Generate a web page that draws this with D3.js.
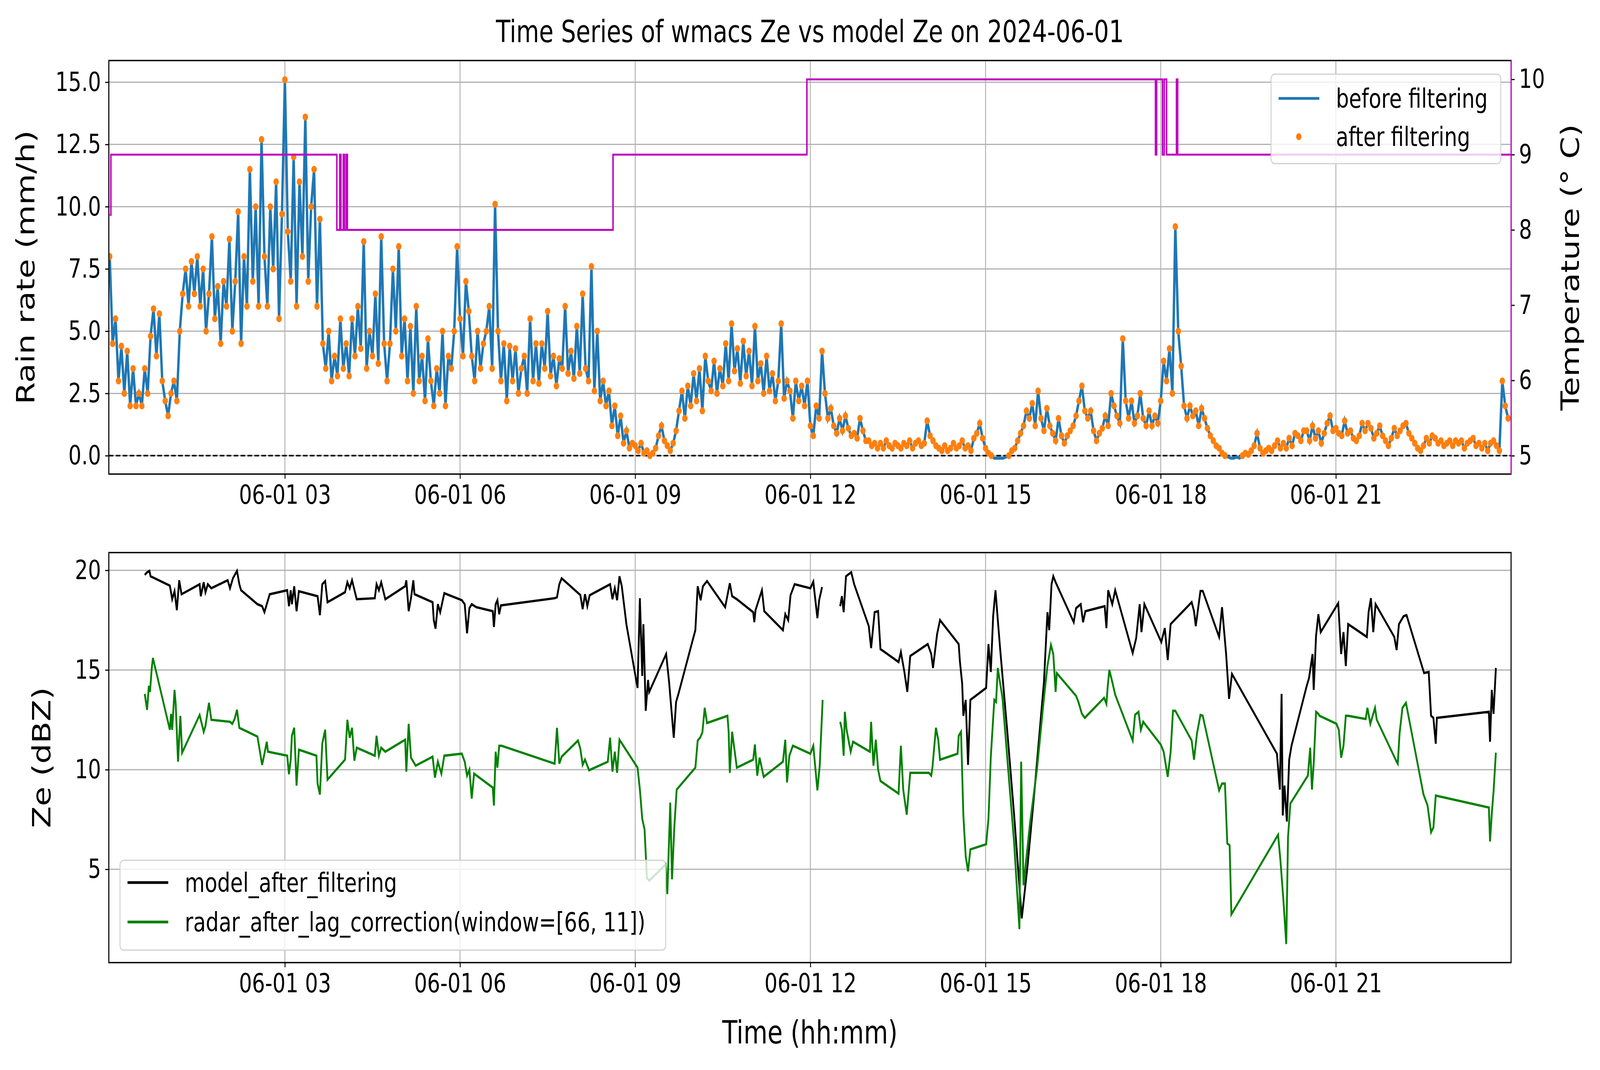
<!DOCTYPE html>
<html><head><meta charset="utf-8">
<script src="https://cdn.jsdelivr.net/npm/d3@7"></script>
<style>html,body{margin:0;padding:0;background:#fff;overflow:hidden;width:100%;height:100%}svg{display:block;width:100vw;height:100vh;font-family:"DejaVu Sans",sans-serif}</style>
</head><body><svg id="chart" viewBox="0 0 5307 2740" preserveAspectRatio="none"></svg>
<script>
// rain rate every 3 minutes from 00:00 (mm/h)
const rainStepMin = 3;
const rainRate = [
  8,4.5,5.5,3,4.4,2.5,4.2,2.0,3.5,2, 2.5,2,3.5,2.5,4.8,5.9,4,5.7,3,2.2,
  1.6,2.5,3,2.2,5,6.5,7.5,6,7.8,6.5, 8,6,7.5,5,6.5,8.8,5.5,6.8,4.5,7,
  6,8.7,5,7,9.8,4.5,8,6,11.5,7, 10,6,12.7,8,6,10,7.5,11,5.5,9.7,
  15.1,9,7,12,6,11,8,13.6,7,10, 11.5,6,9.5,4.5,3.5,5,3,4,3.2,5.5,
  3.5,4.5,3.2,5.5,4,6,4.3,8.6,3.5,5, 4,6.5,3.7,8.8,4.5,3,4.5,7.5,5,8.4,
  4,5.5,3,5.2,2.5,6,3,4,2.2,4.7, 3,2,3.5,2.5,5,2,4,3.5,5,8.4,
  5.5,4,7,5.8,4,3,5,3.5,4.5,5, 6,3.5,10.1,5,3,4.5,2.2,4.4,3,4.3,
  2.5,3.5,4,2.5,5.5,3,4.5,2.9,4.5,3.5, 5.8,3.2,4,2.8,3.9,3.5,6,3.3,4.2,3.1,
  5.2,3.3,6.5,3.5,3,7.6,2.6,5,2.2,3, 2,2.6,1.2,2,0.8,1.6,0.5,1,0.3,0.5,
  0.4,0.2,0.5,0.1,0.2,0,0.1,0.3,0.8,1.2, 0.6,0.4,0.2,0.5,1,1.8,2.6,1.5,2.8,2,
  3.3,2.2,3.5,1.8,4,3,2.6,3.8,2.5,3.5, 2.8,4.5,3,5.3,3.4,4.3,2.9,4.6,3.2,4.2,
  2.8,5.2,3,3.7,2.5,4,2.6,3.3,2.2,3, 5.3,2.3,3,2.6,1.5,3,2.2,2.8,2,3,
  1.2,0.8,2,1.5,4.2,2.5,1.5,1.9,1.2,0.9, 1.5,1,1.6,1.1,0.8,0.9,0.7,1.5,1,0.6,
  0.6,0.4,0.5,0.3,0.5,0.3,0.6,0.4,0.3,0.5, 0.4,0.3,0.5,0.4,0.6,0.3,0.5,0.6,0.4,0.5,
  1.4,0.8,0.6,0.4,0.3,0.2,0.4,0.2,0.3,0.5, 0.3,0.4,0.6,0.3,0.4,0.2,0.7,0.9,1.3,0.7,
  0.3,0.1,0,-0.1,-0.1,-0.1,-0.1,-0.05,0,0.2, 0.3,0.6,0.9,1.2,1.8,1.5,2.1,1.2,2.6,1.5,
  1,1.9,1.2,0.9,0.6,1.5,0.8,0.5,0.8,1, 1.2,1.6,2.2,2.8,1.8,1.5,1.8,1,0.6,0.9,
  1.1,1.6,1.2,2.5,2,1.6,1.3,4.7,2.2,1.5, 2.2,1.3,1.6,2.5,1.5,1.2,1.8,1.2,1.6,1.3,
  2.2,3.8,3,4.3,2.5,9.2,5,3.6,2,1.5, 2,1.6,1.8,1.2,1.9,1.5,1.1,0.8,0.6,0.4,
  0.3,0.1,0,-0.05,-0.1,-0.1,-0.05,-0.1,0,0.1, 0.05,0.2,0.4,0.9,0.3,0.1,0.2,0.3,0.2,0.4,
  0.6,0.3,0.5,0.3,0.7,0.4,0.9,0.8,0.6,1, 1,0.6,1.2,0.7,1,0.5,0.9,1.3,1.6,1,
  1.1,0.9,0.8,1.4,0.9,1,0.7,0.6,0.8,1.3, 1,1.3,1.1,0.7,0.9,1.2,0.8,0.6,0.4,0.7,
  1.1,0.8,1,1.2,1.3,0.9,0.7,0.5,0.3,0.2, 0.4,0.7,0.5,0.8,0.7,0.5,0.6,0.4,0.5,0.6,
  0.4,0.6,0.5,0.6,0.3,0.5,0.6,0.7,0.4,0.5, 0.3,0.5,0.2,0.5,0.6,0.4,0.2,3,2,1.5
];
// temperature steps (hour, °C)
const tempHours = [0,0.02,3.89,3.94,3.96,4.0,4.02,4.05,4.07,8.62,11.94,17.91,17.93,18.03,18.06,18.1,18.27,18.29,24];
const tempValues = [8.2,9,8,9,8,9,8,9,8,9,10,9,10,9,10,9,10,9,9];

// model Ze (hour, dBZ); null = gap
const modelHours = [0.6,0.64,0.68,0.7,1.03,1.07,1.11,1.15,1.19,1.23,1.54,1.56,1.61,1.64,1.68,1.74,2.02,2.06,2.11,2.18,2.22,2.25,2.53,2.61,2.65,2.71,2.74,3.04,3.07,3.1,3.12,3.16,3.2,3.24,3.56,3.6,3.64,3.69,3.73,4.03,4.07,4.11,4.15,4.23,4.54,4.57,4.61,4.65,4.72,5.06,5.08,5.12,5.16,5.2,5.22,5.53,5.55,5.58,5.62,5.66,5.73,6.03,6.08,6.12,6.16,6.2,6.28,6.56,6.58,6.61,6.64,6.67,6.7,7.62,7.66,7.7,7.74,8.06,8.1,8.14,8.18,8.22,8.57,8.61,8.65,8.69,8.73,8.77,8.85,9.04,9.08,9.12,9.14,9.18,9.22,9.24,9.53,9.58,9.66,9.7,9.74,10.03,10.07,10.12,10.16,10.23,10.54,10.58,10.62,10.66,10.74,11.02,11.04,11.06,11.17,11.21,11.53,11.57,11.62,11.66,11.73,12.0,12.05,12.12,12.15,12.2,12.3,12.51,12.54,12.57,12.61,12.7,12.75,13.0,13.04,13.1,13.16,13.2,13.51,13.55,13.61,13.66,13.71,14.01,14.07,14.1,14.17,14.22,14.54,14.56,14.6,14.62,14.66,14.7,14.74,15.01,15.05,15.09,15.13,15.17,15.21,15.25,15.37,15.49,15.62,15.72,15.84,16.0,16.06,16.09,16.13,16.16,16.2,16.51,16.55,16.63,16.67,16.71,17.04,17.07,17.1,17.17,17.22,17.52,17.58,17.64,17.67,17.72,18.01,18.07,18.12,18.17,18.53,18.57,18.6,18.68,18.72,19.0,19.05,19.12,19.17,19.22,19.99,20.04,20.07,20.09,20.12,20.16,20.2,20.24,20.5,20.54,20.6,20.62,20.66,20.7,20.74,21.04,21.09,21.13,21.17,21.21,21.53,21.56,21.6,21.64,21.68,22.0,22.04,22.08,22.16,22.21,22.51,22.59,22.63,22.67,22.71,22.73,23.62,23.64,23.67,23.7,23.74];
const modelZe = [19.77,19.9,19.97,19.7,19.23,18.55,18.95,18.0,19.5,18.8,19.3,18.7,19.4,18.9,19.3,19.1,19.5,19.1,19.6,19.97,19.3,19.0,18.3,18.2,17.9,18.5,18.8,19.0,18.2,19.0,18.3,19.2,17.95,18.95,18.7,17.75,19.3,19.46,18.4,18.9,19.4,19.1,19.5,18.55,18.6,19.3,19.0,19.4,18.55,19.2,19.5,17.95,18.6,19.5,18.8,18.4,17.5,17.07,18.3,17.9,18.85,18.5,18.3,16.84,18.1,18.3,18.15,17.95,17.16,18.3,18.5,17.8,18.24,18.6,18.65,19.3,19.6,18.76,18.05,18.8,18.2,18.75,19.3,18.55,19.1,18.5,19.7,19.2,17.27,14.1,18.6,14.7,17.3,12.95,14.5,13.9,15.8,14.4,11.6,13.4,13.8,17.0,19.2,18.5,19.2,19.46,18.15,18.75,19.35,18.7,18.55,17.9,17.4,18.0,19.0,17.95,17.0,17.8,17.5,18.75,19.3,19.1,19.43,17.6,18.5,19.16,null,18.2,18.7,17.9,19.7,19.9,19.3,17.2,16.1,17.9,17.95,16.05,15.4,15.9,14.9,13.9,15.7,16.3,15.8,15.1,16.8,17.5,16.3,15.45,14.3,12.7,13.5,10.24,13.5,14.1,16.3,14.9,17.7,19.0,17.5,16.05,12.0,7.7,2.54,5.2,9.0,14.4,17.9,17.0,19.3,19.7,19.4,17.4,18.1,18.3,17.4,17.95,18.2,17.1,19.0,18.3,19.0,15.85,16.6,18.3,16.9,18.3,16.4,17.1,15.5,17.3,18.4,17.95,17.2,18.96,18.96,16.66,18.15,15.8,13.55,14.8,10.8,9.0,13.8,7.7,9.2,7.4,10.5,11.2,14.2,14.6,15.8,14.0,16.7,17.8,16.9,18.35,15.8,16.9,15.2,17.3,16.66,17.9,18.6,16.9,18.3,16.66,16.0,17.3,17.7,17.75,14.85,14.9,12.7,12.6,11.3,12.6,12.9,11.4,14.0,12.8,15.1];

// radar Ze after lag correction (hour, dBZ); null = gap
const radarHours = [0.6,0.64,0.67,0.69,0.72,0.74,1.03,1.05,1.07,1.11,1.13,1.17,1.21,1.24,1.54,1.61,1.64,1.7,1.74,2.06,2.1,2.14,2.18,2.22,2.53,2.61,2.65,2.69,2.71,3.04,3.07,3.1,3.12,3.16,3.2,3.24,3.54,3.56,3.6,3.64,3.69,3.73,4.03,4.07,4.11,4.15,4.19,4.23,4.54,4.57,4.61,4.65,4.72,5.06,5.08,5.12,5.16,5.24,5.53,5.57,5.62,5.68,5.73,6.03,6.08,6.12,6.16,6.2,6.24,6.56,6.58,6.61,6.64,6.67,6.71,7.62,7.66,7.7,7.74,8.02,8.06,8.1,8.14,8.21,8.53,8.57,8.61,8.65,8.69,8.73,9.04,9.08,9.12,9.16,9.2,9.24,9.52,9.55,9.6,9.63,9.67,9.71,10.03,10.07,10.11,10.15,10.19,10.23,10.58,10.6,10.62,10.66,10.74,11.02,11.05,11.09,11.13,11.2,11.53,11.57,11.6,11.64,11.7,12.0,12.05,12.12,12.16,12.21,12.3,12.51,12.54,12.57,12.59,12.62,12.69,12.73,13.02,13.04,13.08,13.12,13.16,13.2,13.51,13.55,13.59,13.65,13.71,14.03,14.07,14.09,14.15,14.19,14.22,14.52,14.54,14.58,14.62,14.66,14.7,14.74,15.01,15.05,15.09,15.15,15.18,15.21,15.23,15.29,15.37,15.49,15.58,15.61,15.65,15.76,15.88,16.0,16.06,16.12,16.16,16.2,16.22,16.55,16.59,16.65,16.7,17.03,17.07,17.09,17.12,17.17,17.22,17.52,17.56,17.62,17.66,17.7,18.0,18.05,18.12,18.17,18.21,18.25,18.53,18.57,18.62,18.68,18.72,19.0,19.05,19.1,19.14,19.18,19.21,20.01,20.05,20.1,20.15,20.18,20.22,20.52,20.56,20.59,20.62,20.66,20.7,20.72,21.01,21.05,21.09,21.13,21.17,21.21,21.51,21.54,21.59,21.62,21.67,21.7,22.04,22.06,22.09,22.14,22.2,22.5,22.57,22.63,22.67,22.71,23.62,23.64,23.67,23.7,23.74];
const radarZe = [13.8,13.0,14.2,13.9,15.1,15.6,12.0,12.8,12.0,14.0,13.3,10.4,12.7,10.85,12.74,11.9,12.2,13.35,12.5,12.4,12.3,12.55,13.0,12.1,11.66,10.24,10.8,11.4,10.9,10.7,9.77,10.5,11.7,12.1,9.2,11.0,10.7,9.3,8.75,11.3,12.0,9.5,10.5,12.5,11.6,12.1,10.45,11.1,10.7,11.7,10.7,11.1,10.9,11.5,9.9,12.3,10.6,10.2,10.65,9.6,10.4,9.8,10.7,10.8,10.4,9.7,10.0,8.55,9.8,9.1,8.2,10.9,10.1,11.2,11.2,10.3,12.1,10.3,10.65,11.46,11.05,10.24,10.5,9.97,10.4,11.6,9.9,10.9,9.84,11.5,10.1,9.0,7.54,7.0,4.57,4.43,5.24,3.76,8.35,4.5,7.13,9.0,10.1,11.46,11.6,11.86,13.1,12.34,12.7,11.9,9.84,11.9,10.1,10.5,11.26,9.7,10.6,9.64,10.4,11.5,9.36,10.7,11.2,10.8,11.2,8.96,10.2,13.5,null,12.4,12.0,10.7,12.9,12.0,10.9,11.4,10.9,12.4,10.2,11.5,10.0,9.43,8.8,11.2,9.0,7.74,9.84,9.84,9.7,10.1,12.1,11.5,10.5,10.8,11.7,11.9,7.7,5.65,4.9,6.0,6.26,7.54,10.65,13.5,13.4,15.1,14.7,13.6,10.65,6.3,2.0,10.4,4.2,7.27,10.0,13.6,15.2,16.26,15.8,13.9,14.84,13.7,13.4,12.8,12.6,13.6,13.3,14.1,15.0,14.4,13.76,11.46,12.75,12.9,12.0,12.4,11.26,10.9,9.64,10.9,12.95,12.95,11.46,10.5,11.8,12.74,12.7,8.96,9.3,9.3,6.3,6.2,2.74,6.73,5.45,3.5,1.25,6.6,8.3,9.7,11.1,9.0,10.3,12.9,12.8,12.7,12.3,12.0,10.6,11.2,12.7,12.7,12.54,13.1,12.3,12.6,13.1,12.5,10.4,10.3,11.8,13.1,13.35,8.76,8.2,6.86,7.1,8.7,8.1,6.4,7.8,8.9,10.85];

const svg = d3.select("#chart");
const day = new Date(2024, 5, 1);
const toDate = h => new Date(day.getTime() + h * 3600e3);
const L = 361, R = 5012;
const x = d3.scaleTime().domain([toDate(-0.015), toDate(24.0)]).range([L, R]);
const FS = 68;

const tb = { t: 155, b: 1214 };
const bb = { t: 1415, b: 2465 };
const yRain = d3.scaleLinear().domain([-0.74, 15.87]).range([tb.b, tb.t]);
const yTemp = d3.scaleLinear().domain([4.756, 10.25]).range([tb.b, tb.t]);
const yZe = d3.scaleLinear().domain([0.32, 20.89]).range([bb.b, bb.t]);

const xTicks = d3.range(3, 24, 3).map(toDate);
const fmt = d3.timeFormat("%m-%d %H");

function grid(g, yScale, yTicks, box) {
  g.selectAll(".gx").data(xTicks).join("line")
    .attr("x1", d => x(d)).attr("x2", d => x(d)).attr("y1", box.t).attr("y2", box.b)
    .attr("stroke", "#b0b0b0").attr("stroke-width", 3);
  g.selectAll(".gy").data(yTicks).join("line").attr("class", "gy")
    .attr("x1", L).attr("x2", R).attr("y1", d => yScale(d)).attr("y2", d => yScale(d))
    .attr("stroke", "#b0b0b0").attr("stroke-width", 3);
}

function axes(yScale, yTicks, yFmt, box) {
  svg.append("g").attr("transform", `translate(0,${box.b})`)
    .call(d3.axisBottom(x).tickValues(xTicks).tickFormat(fmt).tickSize(12).tickPadding(16))
    .call(g => g.select(".domain").remove());
  svg.append("g").attr("transform", `translate(${L},0)`)
    .call(d3.axisLeft(yScale).tickValues(yTicks).tickFormat(yFmt).tickSize(12).tickPadding(14))
    .call(g => g.select(".domain").remove());
  svg.selectAll(".tick text").attr("font-size", FS).attr("font-family", "DejaVu Sans").attr("fill", "#000");
  svg.selectAll(".tick line").attr("stroke", "#000").attr("stroke-width", 3);
}

// ---------- top panel ----------
const gTop = svg.append("g");
const rainTicks = [0, 2.5, 5, 7.5, 10, 12.5, 15];
grid(gTop, yRain, rainTicks, tb);
const defs = svg.append("defs");
defs.append("clipPath").attr("id", "clipTop")
  .append("rect").attr("x", L).attr("y", tb.t).attr("width", R - L).attr("height", tb.b - tb.t);
defs.append("clipPath").attr("id", "clipBot")
  .append("rect").attr("x", L).attr("y", bb.t).attr("width", R - L).attr("height", bb.b - bb.t);

const rain = rainRate.map((v, i) => ({ t: toDate(i * rainStepMin / 60), v }));
const plotTop = svg.append("g").attr("clip-path", "url(#clipTop)");
plotTop.append("line").attr("x1", L).attr("x2", R).attr("y1", yRain(0)).attr("y2", yRain(0))
  .attr("stroke", "#000").attr("stroke-width", 4).attr("stroke-dasharray", "15,8");
plotTop.append("path").datum(rain)
  .attr("d", d3.line().x(d => x(d.t)).y(d => yRain(d.v)))
  .attr("fill", "none").attr("stroke", "#1f77b4").attr("stroke-width", 8);
plotTop.selectAll(".dot").data(rain.filter(d => d.v >= 0)).join("circle")
  .attr("cx", d => x(d.t)).attr("cy", d => yRain(d.v)).attr("r", 9).attr("fill", "#ff7f0e");
const temp = tempHours.map((h, i) => ({ t: toDate(h), v: tempValues[i] }));
plotTop.append("path").datum(temp)
  .attr("d", d3.line().curve(d3.curveStepAfter).x(d => x(d.t)).y(d => yTemp(d.v)))
  .attr("fill", "none").attr("stroke", "#bf00bf").attr("stroke-width", 5);

axes(yRain, rainTicks, d3.format(".1f"), tb);
svg.append("g").attr("transform", `translate(${R},0)`)
  .call(d3.axisRight(yTemp).tickValues([5, 6, 7, 8, 9, 10]).tickFormat(d3.format("d")).tickSize(12).tickPadding(14))
  .call(g => g.select(".domain").remove())
  .call(g => g.selectAll("text").attr("font-size", FS).attr("font-family", "DejaVu Sans").attr("fill", "#000"))
  .call(g => g.selectAll("line").attr("stroke", "#000").attr("stroke-width", 3));
svg.append("rect").attr("x", L).attr("y", tb.t).attr("width", R - L).attr("height", tb.b - tb.t)
  .attr("fill", "none").attr("stroke", "#000").attr("stroke-width", 3.5);
svg.append("line").attr("x1", R).attr("x2", R).attr("y1", tb.t).attr("y2", tb.b)
  .attr("stroke", "#bf00bf").attr("stroke-width", 3.5);

// legend top
const lgT = svg.append("g").attr("transform", "translate(4216,190)");
lgT.append("rect").attr("width", 762).attr("height", 229).attr("rx", 12)
  .attr("fill", "rgba(255,255,255,0.8)").attr("stroke", "#d0d0d0").attr("stroke-width", 3);
lgT.append("line").attr("x1", 25).attr("x2", 160).attr("y1", 62).attr("y2", 62).attr("stroke", "#1f77b4").attr("stroke-width", 7);
lgT.append("circle").attr("cx", 92).attr("cy", 160).attr("r", 9).attr("fill", "#ff7f0e");
lgT.append("text").attr("x", 215).attr("y", 86).attr("font-size", FS).text("before filtering");
lgT.append("text").attr("x", 215).attr("y", 184).attr("font-size", FS).text("after filtering");

// ---------- bottom panel ----------
const gBot = svg.append("g");
const zeTicks = [5, 10, 15, 20];
grid(gBot, yZe, zeTicks, bb);
const plotBot = svg.append("g").attr("clip-path", "url(#clipBot)");
const zeLine = d3.line().defined(d => d.v !== null).x(d => x(d.t)).y(d => yZe(d.v));
plotBot.append("path").datum(modelHours.map((h, i) => ({ t: toDate(h), v: modelZe[i] })))
  .attr("d", zeLine).attr("fill", "none").attr("stroke", "#000").attr("stroke-width", 6);
plotBot.append("path").datum(radarHours.map((h, i) => ({ t: toDate(h), v: radarZe[i] })))
  .attr("d", zeLine).attr("fill", "none").attr("stroke", "#008000").attr("stroke-width", 6);
axes(yZe, zeTicks, d3.format("d"), bb);
svg.append("rect").attr("x", L).attr("y", bb.t).attr("width", R - L).attr("height", bb.b - bb.t)
  .attr("fill", "none").attr("stroke", "#000").attr("stroke-width", 3.5);

const lgB = svg.append("g").attr("transform", "translate(398,2203)");
lgB.append("rect").attr("width", 1810).attr("height", 230).attr("rx", 12)
  .attr("fill", "rgba(255,255,255,0.8)").attr("stroke", "#d0d0d0").attr("stroke-width", 3);
lgB.append("line").attr("x1", 25).attr("x2", 160).attr("y1", 57).attr("y2", 57).attr("stroke", "#000").attr("stroke-width", 7);
lgB.append("line").attr("x1", 25).attr("x2", 160).attr("y1", 158).attr("y2", 158).attr("stroke", "#008000").attr("stroke-width", 7);
lgB.append("text").attr("x", 215).attr("y", 81).attr("font-size", FS).text("model_after_filtering");
lgB.append("text").attr("x", 215).attr("y", 182).attr("font-size", FS).text("radar_after_lag_correction(window=[66, 11])");

// ---------- labels ----------
svg.append("text").attr("x", (L + R) / 2).attr("y", 108).attr("text-anchor", "middle").attr("font-size", 78)
  .text("Time Series of wmacs Ze vs model Ze on 2024-06-01");
svg.append("text").attr("transform", `translate(92,${(tb.t + tb.b) / 2}) rotate(-90)`)
  .attr("text-anchor", "middle").attr("dominant-baseline", "middle").attr("font-size", 82).text("Rain rate (mm/h)");
svg.append("text").attr("transform", `translate(5215,${(tb.t + tb.b) / 2}) rotate(-90)`)
  .attr("text-anchor", "middle").attr("dominant-baseline", "middle").attr("font-size", 82).text("Temperature (° C)");
svg.append("text").attr("transform", `translate(145,${(bb.t + bb.b) / 2}) rotate(-90)`)
  .attr("text-anchor", "middle").attr("dominant-baseline", "middle").attr("font-size", 82).text("Ze (dBZ)");
svg.append("text").attr("x", (L + R) / 2).attr("y", 2672).attr("text-anchor", "middle").attr("font-size", 82)
  .text("Time (hh:mm)");
</script></body></html>
